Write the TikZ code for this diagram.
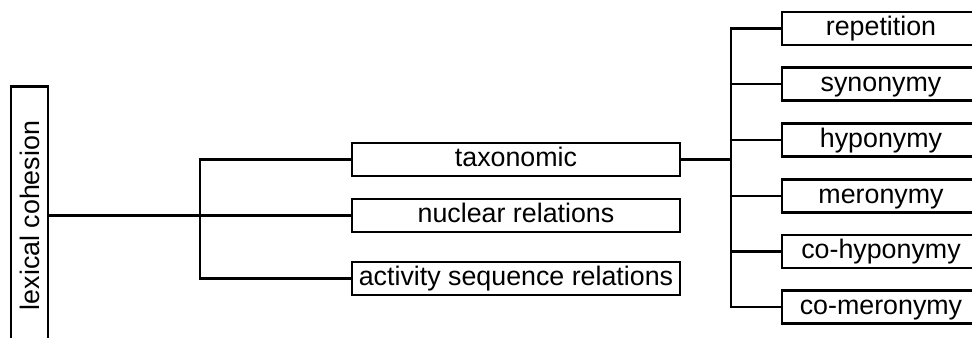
\documentclass[tikz,border=0pt]{standalone}
\usepackage{fontspec}
\setmainfont{Liberation Sans}
\begin{document}
\begin{tikzpicture}[x=0.75pt,y=-0.75pt,
  box/.style={draw=black, line width=1.9pt, inner sep=0pt, font=\fontsize{20.1}{24}\selectfont},
  hbox/.style={box, text height=15pt, text depth=3.75pt},
  midbox/.style={hbox, minimum width=246pt, minimum height=24.75pt},
  rbox/.style={hbox, minimum width=148.5pt, minimum height=24.75pt},
  conn/.style={line width=2.2pt}]
\useasboundingbox[clip] (0,0) rectangle (972,338);
\fill[white] (0,0) rectangle (972,338);
\node[box, minimum width=27.75pt, minimum height=193.5pt] (lex) at (29.5,215.5) {\rotatebox{90}{lexical cohesion}};
\node[midbox] (tax) at (516,159.5) {taxonomic};
\node[midbox] (nuc) at (516,215.5) {nuclear relations};
\node[midbox] (act) at (516,278.5) {activity sequence relations};
\node[rbox] (rep) at (881,28.5) {repetition};
\node[rbox] (syn) at (881,84) {synonymy};
\node[rbox] (hyp) at (881,140) {hyponymy};
\node[rbox] (mer) at (881,196) {meronymy};
\node[rbox] (coh) at (881,251.5) {co-hyponymy};
\node[rbox] (com) at (881,307) {co-meronymy};
\coordinate (b1) at (200,215.5);
\coordinate (b2) at (731,159.5);
\draw[conn] (lex.east) -- (nuc.west);
\draw[conn] (tax.west) -| (b1) |- (act.west);
\draw[conn] (tax.east) -- (b2);
\draw[conn] (rep.west) -| (b2) |- (com.west);
\draw[conn] (b2 |- syn.west) -- (syn.west);
\draw[conn] (b2 |- hyp.west) -- (hyp.west);
\draw[conn] (b2 |- mer.west) -- (mer.west);
\draw[conn] (b2 |- coh.west) -- (coh.west);
\end{tikzpicture}
\end{document}
